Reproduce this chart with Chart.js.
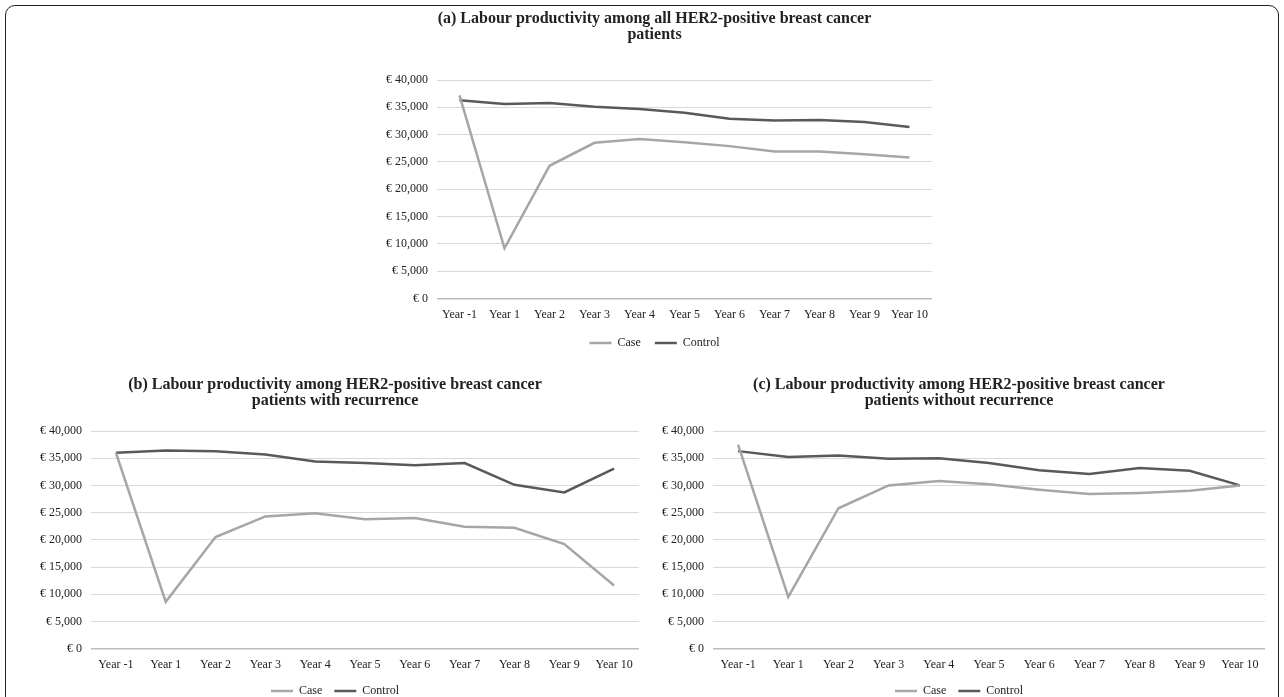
<!DOCTYPE html>
<html>
<head>
<meta charset="utf-8">
<script src="https://cdn.jsdelivr.net/npm/chart.js@4.4.1/dist/chart.umd.min.js"></script>
<style>
  html, body { margin: 0; padding: 0; background: #fff; overflow: hidden; }
  body { width: 1284px; height: 697px; position: relative; }
  .frame { position: absolute; left: 5px; top: 5px; width: 1272px; height: 740px;
           border: 1.5px solid #222; border-radius: 10px; }
  .box { position: absolute; }
</style>
</head>
<body>
<div class="frame"></div>
<div class="box" style="left:377px; top:4px; width:559px; height:355px;"><canvas id="chart-a"></canvas></div>
<div class="box" style="left:31px; top:366px; width:612px; height:341px;"><canvas id="chart-b"></canvas></div>
<div class="box" style="left:653px; top:366px; width:616px; height:341px;"><canvas id="chart-c"></canvas></div>
<script>
const years = ['Year -1', 'Year 1', 'Year 2', 'Year 3', 'Year 4', 'Year 5', 'Year 6', 'Year 7', 'Year 8', 'Year 9', 'Year 10'];
const seriesNames = ['Case', 'Control'];

// (a) all patients
const caseAll = [37200, 9200, 24300, 28500, 29200, 28600, 27900, 26900, 26900, 26400, 25800];
const controlAll = [36300, 35600, 35800, 35100, 34700, 34000, 32900, 32600, 32700, 32300, 31400];

// (b) with recurrence
const caseRecur = [36000, 8600, 20500, 24300, 24900, 23800, 24000, 22400, 22200, 19200, 11600];
const controlRecur = [36000, 36400, 36300, 35700, 34400, 34100, 33700, 34100, 30100, 28700, 33100];

// (c) without recurrence
const caseNoRecur = [37500, 9500, 25800, 30000, 30800, 30200, 29200, 28400, 28600, 29000, 30000];
const controlNoRecur = [36300, 35200, 35500, 34900, 35000, 34100, 32800, 32100, 33200, 32700, 30000];

const titleA = ['(a) Labour productivity among all HER2-positive breast cancer', 'patients'];
const titleB = ['(b) Labour productivity among HER2-positive breast cancer', 'patients with recurrence'];
const titleC = ['(c) Labour productivity among HER2-positive breast cancer', 'patients without recurrence'];

const caseColor = '#a6a6a6';
const controlColor = '#595959';
const serif = "'Liberation Serif', 'Times New Roman', serif";

function makeChart(id, title, caseData, controlData, titlePad, legendPad) {
    const ctx = document.getElementById(id).getContext('2d');
    return new Chart(ctx, {
        type: 'line',
        data: {
            labels: years,
            datasets: [{
                label: seriesNames[0],
                data: caseData,
                borderColor: caseColor,
                backgroundColor: caseColor,
                borderWidth: 2.5,
                pointRadius: 0,
                tension: 0
            }, {
                label: seriesNames[1],
                data: controlData,
                borderColor: controlColor,
                backgroundColor: controlColor,
                borderWidth: 2.5,
                pointRadius: 0,
                tension: 0
            }]
        },
        options: {
            animation: false,
            responsive: true,
            maintainAspectRatio: false,
            layout: { padding: { left: 0, right: 4, top: 0, bottom: 0 } },
            plugins: {
                title: {
                    display: true,
                    text: title,
                    color: '#222',
                    font: { family: serif, size: 16, weight: 'bold', lineHeight: 1.0 },
                    padding: titlePad
                },
                legend: {
                    position: 'bottom',
                    labels: {
                        usePointStyle: true,
                        pointStyle: 'line',
                        pointStyleWidth: 22,
                        color: '#222',
                        padding: legendPad,
                        font: { family: serif, size: 12 }
                    }
                },
                tooltip: { enabled: false }
            },
            scales: {
                x: {
                    offset: true,
                    grid: { display: false },
                    border: { display: false },
                    ticks: { color: '#222', font: { family: serif, size: 12 }, padding: 1, maxRotation: 0 }
                },
                y: {
                    min: 0,
                    max: 40000,
                    border: { display: false },
                    grid: {
                        drawTicks: false,
                        color: (c) => c.tick && c.tick.value === 0 ? '#bdbdbd' : '#d9d9d9',
                        lineWidth: (c) => c.tick && c.tick.value === 0 ? 1.6 : 1
                    },
                    ticks: {
                        stepSize: 5000,
                        padding: 9,
                        color: '#222',
                        font: { family: serif, size: 12 },
                        callback: (v) => '\u20ac ' + v.toLocaleString('en-US')
                    }
                }
            }
        }
    });
}

makeChart('chart-a', titleA, caseAll, controlAll, { top: 7, bottom: 37 }, 14);
makeChart('chart-b', titleB, caseRecur, controlRecur, { top: 11, bottom: 22 }, 12);
makeChart('chart-c', titleC, caseNoRecur, controlNoRecur, { top: 11, bottom: 22 }, 12);
</script>
</body>
</html>
